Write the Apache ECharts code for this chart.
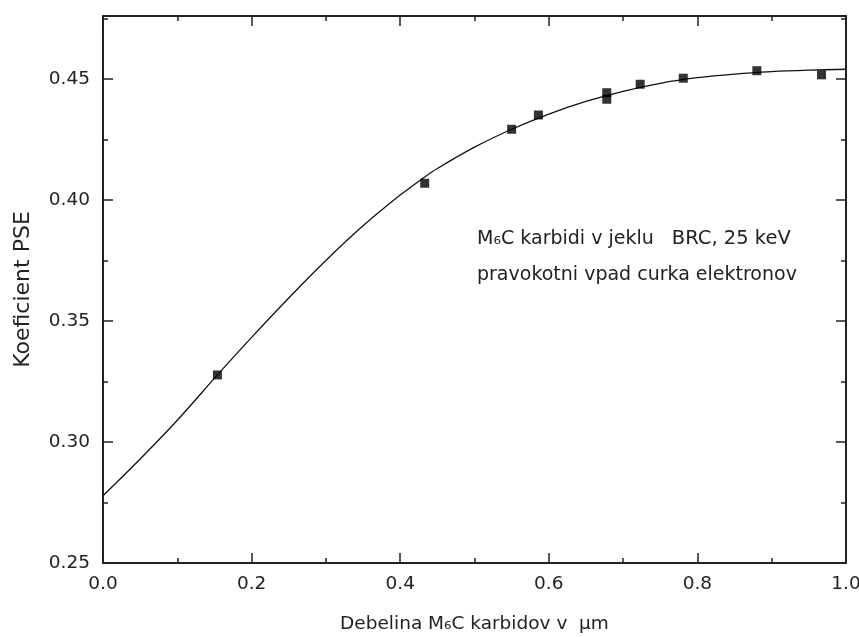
<!DOCTYPE html>
<html><head><meta charset="utf-8">
<script src="https://cdn.jsdelivr.net/npm/echarts@6/dist/echarts.min.js"></script>
<style>html,body{margin:0;padding:0;background:#fff}#c{width:859px;height:637px}</style>
</head><body><div id="c"></div>
<script>
// Measured points
const pointX = [0.154, 0.433, 0.550, 0.586, 0.678, 0.678, 0.723, 0.781, 0.880, 0.967];
const pointY = [0.3277, 0.4069, 0.4292, 0.4351, 0.4443, 0.4416, 0.4478, 0.4503, 0.4534, 0.4517];
// Fitted curve
const fitX = [0, 0.05, 0.10, 0.154, 0.20, 0.25, 0.30, 0.35, 0.40, 0.433, 0.45, 0.50, 0.55, 0.60, 0.65, 0.70, 0.75, 0.80, 0.85, 0.90, 0.95, 1.00];
const fitY = [0.2778, 0.2930, 0.3090, 0.3277, 0.3432, 0.3595, 0.3750, 0.3893, 0.4020, 0.4095, 0.4130, 0.4218, 0.4292, 0.4355, 0.4407, 0.4449, 0.4482, 0.4505, 0.4520, 0.4530, 0.4536, 0.4540];
const xTickLabels = ['0.0', '0.2', '0.4', '0.6', '0.8', '1.0'];
const yTickLabels = ['0.25', '0.30', '0.35', '0.40', '0.45'];
const xTitle = 'Debelina M₆C karbidov v  µm';
const yTitle = 'Koeficient PSE';
const noteLine1a = 'M₆C karbidi v jeklu   ';
const noteLine1b = 'BRC, 25 keV';
const noteLine2 = 'pravokotni vpad curka elektronov';

const FONT = 'DejaVu Sans';
const FS = 18.5;
const INK = '#222';

function fmt(labels) {
  return function (v) {
    for (const l of labels) { if (Math.abs(parseFloat(l) - v) < 1e-6) return l; }
    return '';
  };
}
const lineStyle = { color: INK, width: 2 };
function xAx(pos, showLabel) {
  return {
    type: 'value', position: pos, min: 0, max: 1, interval: 0.2,
    axisLine: { show: true, onZero: false, lineStyle },
    axisTick: { show: true, inside: true, length: 10, lineStyle: { color: INK, width: 1.5 } },
    minorTick: { show: true, splitNumber: 2, length: 5, lineStyle: { color: INK, width: 1.5 } },
    splitLine: { show: false }, minorSplitLine: { show: false },
    axisLabel: { show: showLabel, formatter: fmt(xTickLabels), fontFamily: FONT, fontSize: FS, color: INK, margin: 12 },
    name: showLabel ? xTitle : '', nameLocation: 'middle', nameGap: 52,
    nameTextStyle: { fontFamily: FONT, fontSize: FS, color: INK }
  };
}
function yAx(pos, interval, len, showLabel, showLine) {
  return {
    type: 'value', position: pos, min: 0.25, max: 0.476, interval: interval,
    axisLine: { show: showLine, onZero: false, lineStyle },
    axisTick: { show: true, inside: true, length: len, lineStyle: { color: INK, width: 1.5 } },
    splitLine: { show: false },
    axisLabel: { show: showLabel, formatter: fmt(yTickLabels), fontFamily: FONT, fontSize: FS, color: INK, margin: 13, showMaxLabel: false },
    name: showLabel ? yTitle : '', nameLocation: 'middle', nameGap: 69, nameRotate: 90,
    nameTextStyle: { fontFamily: FONT, fontSize: 22, color: INK }
  };
}

const chart = echarts.init(document.getElementById('c'), null, { renderer: 'canvas' });
chart.setOption({
  animation: false,
  backgroundColor: '#fff',
  grid: { left: 103, right: 13, top: 16, bottom: 74, containLabel: false, outerBoundsMode: 'none' },
  xAxis: [xAx('bottom', true), xAx('top', false)],
  yAxis: [
    yAx('left', 0.05, 10, true, true),
    yAx('left', 0.025, 5, false, false),
    yAx('right', 0.05, 10, false, true),
    yAx('right', 0.025, 5, false, false)
  ],
  series: [
    {
      type: 'line', xAxisIndex: 0, yAxisIndex: 0,
      data: fitX.map((x, i) => [x, fitY[i]]),
      smooth: 0.3, showSymbol: false, symbol: 'none',
      lineStyle: { color: '#111', width: 1.3 }, z: 2
    },
    {
      type: 'scatter', xAxisIndex: 0, yAxisIndex: 0,
      data: pointX.map((x, i) => [x, pointY[i]]),
      symbol: 'rect', symbolSize: 9,
      itemStyle: { color: '#000' }, z: 3
    }
  ],
  graphic: [
    {
      type: 'text', left: 477, top: 229,
      style: {
        text: '{a|' + noteLine1a + '}{b|' + noteLine1b + '}',
        rich: {
          a: { fontFamily: FONT, fontSize: 19, fill: INK, color: INK },
          b: { fontFamily: FONT, fontSize: 19.5, fill: INK, color: INK }
        }
      }
    },
    {
      type: 'text', left: 477, top: 266,
      style: { text: noteLine2, fontFamily: FONT, fontSize: 19, fill: INK }
    }
  ]
});
</script></body></html>
